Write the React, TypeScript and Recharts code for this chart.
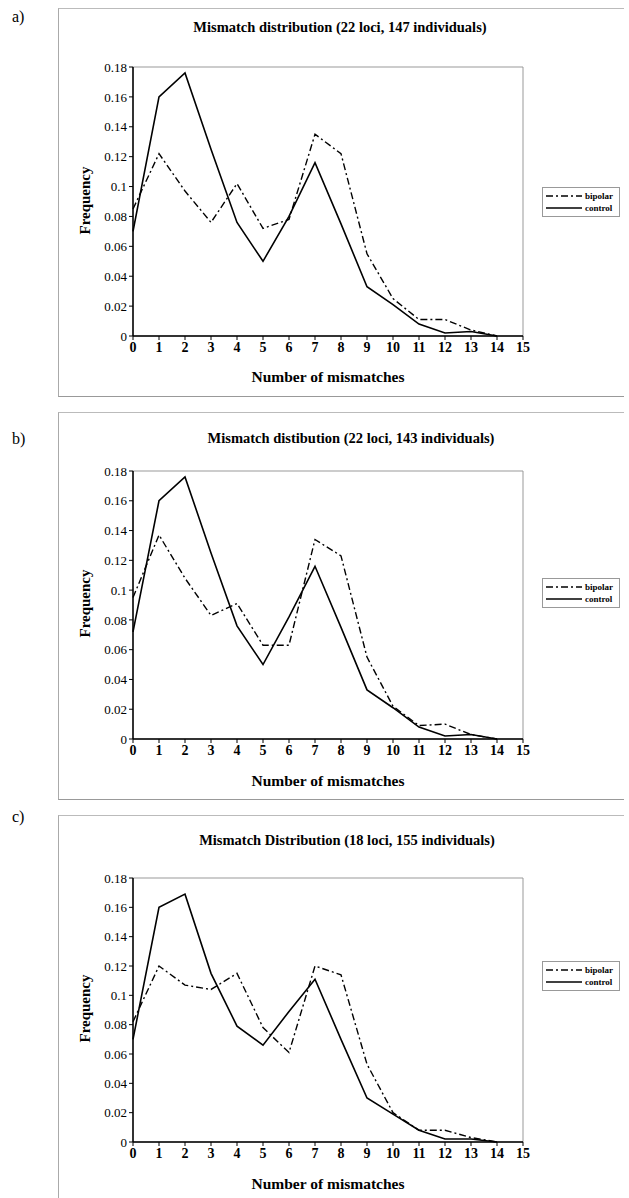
import React from 'react';
import { LineChart, Line, XAxis, YAxis, ReferenceArea } from 'recharts';

const mismatches = [0, 1, 2, 3, 4, 5, 6, 7, 8, 9, 10, 11, 12, 13, 14];
const xTicks = [0, 1, 2, 3, 4, 5, 6, 7, 8, 9, 10, 11, 12, 13, 14, 15];
const yTicks = [0, 0.02, 0.04, 0.06, 0.08, 0.1, 0.12, 0.14, 0.16, 0.18];

const bipolarA = [0.085, 0.122, 0.097, 0.076, 0.102, 0.072, 0.078, 0.135, 0.122, 0.055, 0.025, 0.011, 0.011, 0.004, 0];
const controlA = [0.07, 0.16, 0.176, 0.125, 0.076, 0.05, 0.08, 0.116, 0.075, 0.033, 0.021, 0.008, 0.002, 0.003, 0];

const bipolarB = [0.095, 0.137, 0.108, 0.083, 0.091, 0.063, 0.063, 0.134, 0.123, 0.055, 0.022, 0.009, 0.01, 0.003, 0];
const controlB = [0.072, 0.16, 0.176, 0.125, 0.076, 0.05, 0.082, 0.116, 0.075, 0.033, 0.021, 0.008, 0.002, 0.003, 0];

const bipolarC = [0.082, 0.12, 0.107, 0.104, 0.115, 0.078, 0.061, 0.12, 0.114, 0.053, 0.02, 0.008, 0.008, 0.003, 0];
const controlC = [0.07, 0.16, 0.169, 0.115, 0.079, 0.066, 0.089, 0.111, 0.07, 0.03, 0.019, 0.008, 0.002, 0.002, 0];

const titles = [
  'Mismatch distribution (22 loci, 147 individuals)',
  'Mismatch distibution (22 loci, 143 individuals)',
  'Mismatch Distribution (18 loci, 155 individuals)',
];
const letters = ['a)', 'b)', 'c)'];
const xLabel = 'Number of mismatches';
const yLabel = 'Frequency';
const seriesNames = ['bipolar', 'control'];

const FONT = '"Liberation Serif", "DejaVu Serif", serif';
const DASH = '7 3 2 3';

const build = (b: number[], c: number[]) =>
  mismatches.map((m, i) => ({ x: m, bipolar: b[i], control: c[i] }));

const fmt = (v: number) => String(Number(v.toFixed(2)));

const LegendBox = ({ left, top }: { left: number; top: number }) => (
  <div
    style={{
      position: 'absolute',
      left,
      top,
      border: '1px solid #999',
      background: '#fff',
      padding: '2px 4px 2px 3px',
      fontFamily: FONT,
      fontSize: 9,
      fontWeight: 'bold',
      width: 78,
      boxSizing: 'border-box',
    }}
  >
    {seriesNames.map((n, i) => (
      <div key={n} style={{ display: 'flex', alignItems: 'center', height: 12 }}>
        <svg width={36} height={8} style={{ marginRight: 3 }}>
          <line x1={0} y1={4} x2={36} y2={4} stroke="#000" strokeWidth={1.3} strokeDasharray={i === 0 ? DASH : undefined} />
        </svg>
        <span>{n}</span>
      </div>
    ))}
  </div>
);

type PanelProps = {
  top: number;
  height: number;
  plotTop: number;
  plotBottom: number;
  frameBottom: number;
  titleY: number;
  titleX: number;
  letterY: number;
  xLabelY: number;
  legendTop: number;
  idx: number;
  bipolar: number[];
  control: number[];
};

const PLOT_LEFT = 133;
const PLOT_RIGHT = 523;
const W = 629;

const Panel = (p: PanelProps) => {
  const data = build(p.bipolar, p.control);
  const mTop = p.plotTop - p.top;
  const xAxisH = p.height - (p.plotBottom - p.top);
  const yMid = (p.plotTop + p.plotBottom) / 2;
  return (
    <>
      <div
        style={{
          position: 'absolute',
          left: 58,
          top: p.top,
          width: 566,
          height: p.frameBottom - p.top,
          borderLeft: '1px solid #aaa',
          borderTop: '1px solid #bbb',
          borderBottom: '1px solid #999',
          boxSizing: 'border-box',
        }}
      />
      <div style={{ position: 'absolute', left: 12, top: p.letterY - 10, fontFamily: FONT, fontSize: 16 }}>
        {letters[p.idx]}
      </div>
      <div
        style={{
          position: 'absolute',
          left: p.titleX - 200,
          width: 400,
          top: p.titleY - 10,
          textAlign: 'center',
          fontFamily: FONT,
          fontSize: 14.5,
          fontWeight: 'bold',
        }}
      >
        {titles[p.idx]}
      </div>
      <div
        style={{
          position: 'absolute',
          left: 328 - 150,
          width: 300,
          top: p.xLabelY - 10,
          textAlign: 'center',
          fontFamily: FONT,
          fontSize: 15.5,
          fontWeight: 'bold',
        }}
      >
        {xLabel}
      </div>
      <div
        style={{
          position: 'absolute',
          left: 85 - 50,
          top: yMid - 10,
          width: 100,
          textAlign: 'center',
          transform: 'rotate(-90deg)',
          fontFamily: FONT,
          fontSize: 15,
          fontWeight: 'bold',
        }}
      >
        {yLabel}
      </div>
      <div style={{ position: 'absolute', left: 0, top: p.top }}>
        <LineChart
          width={W}
          height={p.height}
          data={data}
          margin={{ top: mTop, bottom: 0, left: 0, right: W - PLOT_RIGHT }}
        >
          <ReferenceArea x1={0} x2={15} y1={0} y2={0.18} fill="none" stroke="#999" strokeWidth={1} ifOverflow="visible" />
          <XAxis
            dataKey="x"
            type="number"
            domain={[0, 15]}
            ticks={xTicks}
            interval={0}
            height={xAxisH}
            axisLine={{ stroke: '#000', strokeWidth: 1.5 }}
            tickLine={{ stroke: '#000' }}
            tickSize={4}
            tick={{ fill: '#000', fontFamily: FONT, fontSize: 14, fontWeight: 'bold' }}
          />
          <YAxis
            type="number"
            domain={[0, 0.18]}
            ticks={yTicks}
            interval={0}
            width={PLOT_LEFT}
            tickFormatter={fmt}
            axisLine={{ stroke: '#000', strokeWidth: 1.5 }}
            tickLine={{ stroke: '#000' }}
            tickSize={4}
            tick={{ fill: '#000', fontFamily: FONT, fontSize: 13 }}
          />
          <Line
            dataKey="bipolar"
            name={seriesNames[0]}
            stroke="#000"
            strokeWidth={1.4}
            strokeDasharray={DASH}
            dot={false}
            isAnimationActive={false}
          />
          <Line
            dataKey="control"
            name={seriesNames[1]}
            stroke="#000"
            strokeWidth={1.6}
            dot={false}
            isAnimationActive={false}
          />
        </LineChart>
      </div>
      <LegendBox left={542} top={p.legendTop} />
    </>
  );
};

export default function App() {
  return (
    <div style={{ position: 'absolute', left: 0, top: 0, width: 629, height: 1198, background: '#fff', overflow: 'hidden' }}>
      <Panel idx={0} top={8} height={390} plotTop={67} plotBottom={336} frameBottom={397} titleY={29} titleX={340}
        letterY={18} xLabelY={378} legendTop={187} bipolar={bipolarA} control={controlA} />
      <Panel idx={1} top={412} height={388} plotTop={471} plotBottom={739} frameBottom={800} titleY={440} titleX={351}
        letterY={440} xLabelY={782} legendTop={578} bipolar={bipolarB} control={controlB} />
      <Panel idx={2} top={815} height={383} plotTop={878} plotBottom={1142} frameBottom={1210} titleY={842} titleX={347}
        letterY={818} xLabelY={1185} legendTop={961} bipolar={bipolarC} control={controlC} />
    </div>
  );
}
